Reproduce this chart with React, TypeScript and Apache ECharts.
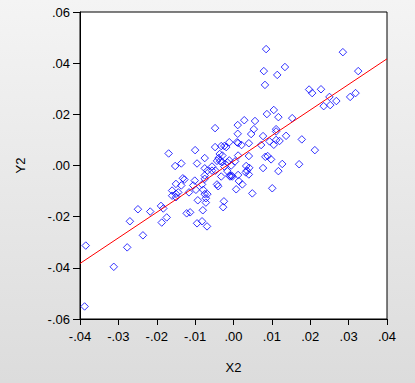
import React, { useEffect, useRef } from "react";
import * as echarts from "echarts";

// Scatter points [X2, Y2]
const points: number[][] = [
  [0.0085, 0.0455], [0.0285, 0.0443], [0.0079, 0.0369], [0.0134, 0.0385], [0.0114, 0.0354],
  [0.0082, 0.0315], [0.0325, 0.0369], [0.0197, 0.0297], [0.0205, 0.0283], [0.0228, 0.0298],
  [0.0250, 0.0268], [0.0235, 0.0232], [0.0252, 0.0236], [0.0268, 0.0252], [0.0304, 0.0268],
  [0.0318, 0.0283], [0.0105, 0.0217], [0.0087, 0.0201], [0.0117, 0.0189], [0.0153, 0.0185],
  [0.0028, 0.0177], [0.0056, 0.0174], [0.0011, 0.0158], [0.0053, 0.0142], [0.0046, 0.0123],
  [0.0011, 0.0124], [0.0111, 0.0142], [0.0111, 0.0133], [0.0077, 0.0115], [0.0137, 0.0116],
  [0.0178, 0.0102], [0.0040, 0.0087], [0.0021, 0.0080], [0.0009, 0.0091], [0.0012, 0.0088],
  [0.0072, 0.0080], [0.0094, 0.0094], [0.0105, 0.0081], [0.0111, 0.0100], [0.0120, 0.0096],
  [0.0212, 0.0060], [0.0012, 0.0039], [0.0040, 0.0037], [0.0083, 0.0034], [0.0089, 0.0037],
  [0.0098, 0.0024], [0.0004, 0.0016], [0.0127, 0.0006], [0.0171, 0.0005], [0.0077, -0.0010],
  [0.0033, -0.0002], [0.0041, -0.0009], [0.0032, -0.0027], [0.0040, -0.0035], [0.0035, -0.0020],
  [0.0117, -0.0022], [-0.0005, -0.0040], [0.0012, -0.0037], [0.0014, -0.0061], [0.0023, -0.0074],
  [0.0007, -0.0093], [0.0049, -0.0109], [0.0101, -0.0089], [-0.0169, 0.0047], [-0.0100, 0.0060],
  [-0.0152, -0.0002], [-0.0136, 0.0008], [-0.0095, 0.0008], [-0.0075, 0.0029], [-0.0075, -0.0011],
  [-0.0048, 0.0146], [-0.0048, 0.0072], [-0.0032, 0.0076], [-0.0024, 0.0076], [-0.0019, 0.0072],
  [-0.0011, 0.0091], [-0.0036, 0.0045], [-0.0029, 0.0039], [-0.0039, 0.0029], [-0.0043, 0.0018],
  [-0.0035, 0.0017], [-0.0029, 0.0013], [-0.0011, 0.0020], [-0.0016, 0.0012], [-0.0024, -0.0004],
  [-0.0006, 0.0000], [-0.0056, -0.0004], [-0.0068, -0.0020], [-0.0056, -0.0020], [-0.0047, -0.0020],
  [-0.0075, -0.0039], [-0.0075, -0.0052], [-0.0082, -0.0074], [-0.0043, -0.0074], [-0.0040, -0.0081],
  [-0.0032, -0.0043], [-0.0016, -0.0022], [-0.0009, -0.0043], [-0.0003, -0.0043], [-0.0010, -0.0039],
  [-0.0132, -0.0050], [-0.0128, -0.0055], [-0.0150, -0.0072], [-0.0136, -0.0078], [-0.0160, -0.0098],
  [-0.0144, -0.0105], [-0.0150, -0.0111], [-0.0160, -0.0118], [-0.0150, -0.0124], [-0.0101, -0.0059],
  [-0.0105, -0.0078], [-0.0116, -0.0105], [-0.0098, -0.0095], [-0.0079, -0.0095], [-0.0075, -0.0112],
  [-0.0068, -0.0112], [-0.0072, -0.0128], [-0.0072, -0.0145], [-0.0093, -0.0136], [-0.0025, -0.0140],
  [-0.0027, -0.0163], [-0.0122, -0.0187], [-0.0113, -0.0183], [-0.0080, -0.0175], [-0.0095, -0.0226],
  [-0.0082, -0.0218], [-0.0069, -0.0238], [-0.0189, -0.0158], [-0.0183, -0.0168], [-0.0217, -0.0180],
  [-0.0249, -0.0171], [-0.0270, -0.0218], [-0.0187, -0.0223], [-0.0174, -0.0203], [-0.0236, -0.0273],
  [-0.0277, -0.0320], [-0.0312, -0.0396], [-0.0385, -0.0313], [-0.0388, -0.0551],
];

// Fitted line end points
const lineX = [-0.04, 0.04];
const lineY = [-0.0383, 0.0417];

const xTicks = { min: -0.04, max: 0.04, interval: 0.01 };
const yTicks = { min: -0.06, max: 0.06, interval: 0.02 };

const fmt = (v: number) => {
  const s = Math.abs(v).toFixed(2).replace(/^0/, "");
  return (v < -1e-9 ? "-" : "") + s;
};

const FONT = "Liberation Sans, Arial, sans-serif";

export default function App() {
  const ref = useRef<HTMLDivElement>(null);
  useEffect(() => {
    if (!ref.current) return;
    const chart = echarts.init(ref.current, null, { renderer: "svg" });
    chart.setOption({
      animation: false,
      backgroundColor: "transparent",
      grid: {
        left: 80,
        top: 12,
        width: 307,
        height: 307,
        show: true,
        backgroundColor: "#ffffff",
        borderColor: "#000000",
        borderWidth: 1,
      },
      xAxis: {
        type: "value",
        min: xTicks.min,
        max: xTicks.max,
        interval: xTicks.interval,
        name: "X2",
        nameLocation: "middle",
        nameGap: 42,
        nameTextStyle: { color: "#000", fontSize: 13, fontFamily: FONT },
        axisLine: { show: true, onZero: false, lineStyle: { color: "#000", width: 1 } },
        axisTick: { show: true, inside: false, length: 6, lineStyle: { color: "#000" } },
        axisLabel: { formatter: fmt, color: "#000", fontSize: 13, fontFamily: FONT, margin: 11 },
        splitLine: { show: false },
      },
      yAxis: {
        type: "value",
        min: yTicks.min,
        max: yTicks.max,
        interval: yTicks.interval,
        name: "Y2",
        nameLocation: "middle",
        nameGap: 53,
        nameTextStyle: { color: "#000", fontSize: 13, fontFamily: FONT },
        axisLine: { show: true, onZero: false, lineStyle: { color: "#000", width: 1 } },
        axisTick: { show: true, inside: false, length: 7, lineStyle: { color: "#000" } },
        axisLabel: { formatter: fmt, color: "#000", fontSize: 13, fontFamily: FONT, margin: 10 },
        splitLine: { show: false },
      },
      series: [
        {
          type: "scatter",
          data: points,
          symbol: "diamond",
          symbolSize: [7.5, 7.5],
          itemStyle: { color: "transparent", borderColor: "#0000ff", borderWidth: 1 },
          silent: true,
        },
        {
          type: "line",
          data: lineX.map((x, i) => [x, lineY[i]]),
          showSymbol: false,
          symbol: "none",
          lineStyle: { color: "#ff0000", width: 1 },
          silent: true,
          z: 3,
        },
      ],
    });
    return () => chart.dispose();
  }, []);
  return (
    <div
      style={{
        position: "fixed",
        left: 0,
        top: 0,
        width: 415,
        height: 383,
        background: "linear-gradient(to bottom, #f4f4f4 0%, #dcdcdc 100%)",
      }}
    >
      <div ref={ref} style={{ width: 415, height: 383 }} />
    </div>
  );
}
